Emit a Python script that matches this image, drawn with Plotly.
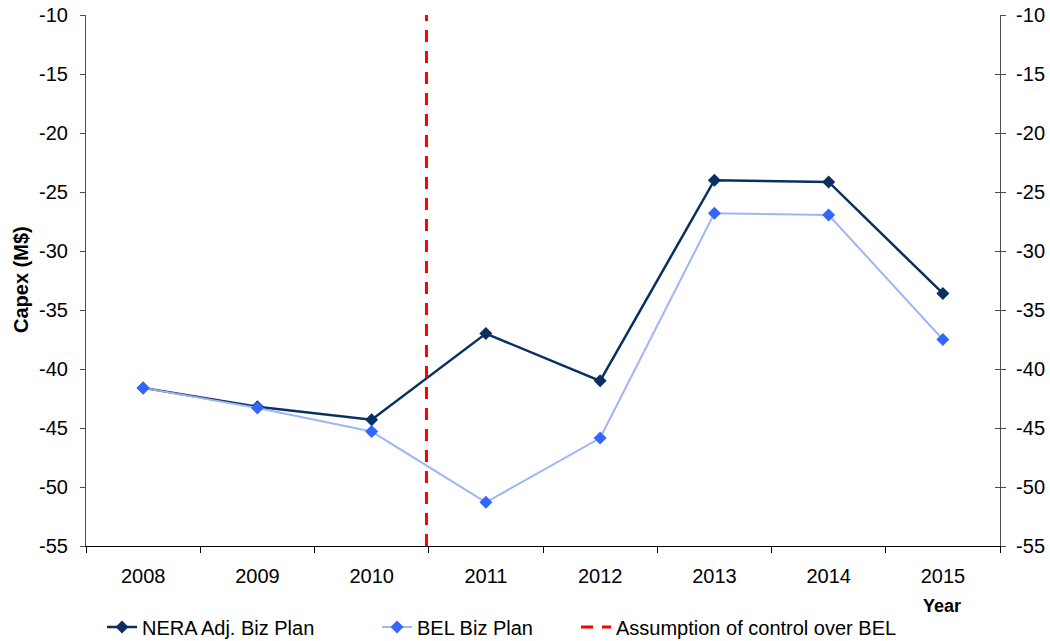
import plotly.graph_objects as go

years = ["2008", "2009", "2010", "2011", "2012", "2013", "2014", "2015"]
nera_adj = [-41.6, -43.2, -44.3, -37.0, -41.0, -24.0, -24.15, -33.6]
bel_plan = [-41.6, -43.3, -45.3, -51.3, -45.85, -26.8, -26.95, -37.5]
control_x = 2.48  # position between 2010 and 2011
y_range = [-55, -10]
y_ticks = list(range(-55, -9, 5))
y_ticktext = [str(v) for v in y_ticks]  # plain hyphen minus

xi = list(range(len(years)))
FONT = "Liberation Sans, Arial, sans-serif"
font = dict(family=FONT, size=20, color="black")
axis_grey = "#4d4d4d"

fig = go.Figure()
fig.add_trace(go.Scatter(
    x=xi, y=nera_adj, name="NERA Adj. Biz Plan", mode="lines+markers",
    line=dict(color="#0a2f60", width=2.5),
    marker=dict(symbol="diamond", size=10, color="#0a2f60"),
    legend="legend",
))
fig.add_trace(go.Scatter(
    x=xi, y=bel_plan, name="BEL Biz Plan", mode="lines+markers",
    line=dict(color="#9fb6f5", width=2),
    marker=dict(symbol="diamond", size=10, color="#3366ff"),
    legend="legend2",
))
fig.add_trace(go.Scatter(
    x=[control_x, control_x], y=y_range, name="Assumption of control over BEL",
    mode="lines", line=dict(color="#ff0000", width=3, dash="12px,9px"),
    legend="legend3",
))
# invisible traces so the mirrored right axis is drawn
fig.add_trace(go.Scatter(x=[0], y=[-30], yaxis="y2", showlegend=False,
                         mode="markers", marker=dict(opacity=0), hoverinfo="skip"))
fig.add_trace(go.Scatter(x=[0], y=[-30], yaxis="y3", showlegend=False,
                         mode="markers", marker=dict(opacity=0), hoverinfo="skip"))

# plot area: x 86..1000, y 15..546
PL, PR, PT, PB = 86, 1000, 15, 546
pw, ph = PR - PL, PB - PT


def px_x(p):
    return (p - PL) / pw


def px_y(p):
    return (PB - p) / ph


legend_common = dict(orientation="h", yanchor="middle", y=px_y(627),
                     xanchor="left", font=dict(family=FONT, size=20),
                     bgcolor="rgba(0,0,0,0)", itemwidth=30)

fig.update_layout(
    width=1050, height=641,
    margin=dict(l=PL, r=1050 - PR, t=PT, b=641 - PB, autoexpand=False),
    paper_bgcolor="white", plot_bgcolor="white",
    font=font,
    showlegend=True,
    legend=dict(x=px_x(102), **legend_common),
    legend2=dict(x=px_x(377), **legend_common),
    legend3=dict(x=px_x(576), **legend_common),
    xaxis=dict(
        range=[-0.5, 7.5], tickvals=xi, ticktext=years, ticks="",
        showline=True, linecolor="black", linewidth=1.2, showgrid=False,
        zeroline=False, tickfont=dict(size=20), automargin=False,
        minor=dict(tickvals=[i - 0.5 for i in range(len(years) + 1)],
                   ticks="outside", ticklen=6, tickcolor="black", showgrid=False),
        ticklabelstandoff=12,
    ),
    yaxis=dict(
        range=y_range, tickvals=y_ticks, ticktext=y_ticktext,
        ticks="outside", ticklen=5, automargin=False,
        showline=True, linecolor=axis_grey, linewidth=1.2, showgrid=False,
        zeroline=False, tickfont=dict(size=20), tickcolor=axis_grey,
        ticklabelstandoff=8,
    ),
    yaxis2=dict(
        range=y_range, tickvals=y_ticks, ticktext=y_ticktext,
        ticks="outside", ticklen=5, automargin=False,
        overlaying="y", side="right", showline=True, linecolor=axis_grey,
        linewidth=1.2, showgrid=False, zeroline=False, tickcolor=axis_grey,
        tickfont=dict(size=20), ticklabelstandoff=6,
    ),
    yaxis3=dict(
        range=y_range, tickvals=y_ticks, ticks="inside", ticklen=5,
        overlaying="y", side="right", showline=False, showgrid=False,
        zeroline=False, showticklabels=False, tickcolor=axis_grey,
    ),
    annotations=[
        dict(text="<b>Capex (M$)</b>", textangle=-90, x=px_x(21), xref="paper",
             y=px_y(280), yref="paper", showarrow=False,
             font=dict(size=20), xanchor="center", yanchor="middle"),
        dict(text="<b>Year</b>", x=px_x(942), xref="paper", y=px_y(606),
             yref="paper", showarrow=False, font=dict(size=18),
             xanchor="center", yanchor="middle"),
    ],
)

fig.write_html("out.html")
